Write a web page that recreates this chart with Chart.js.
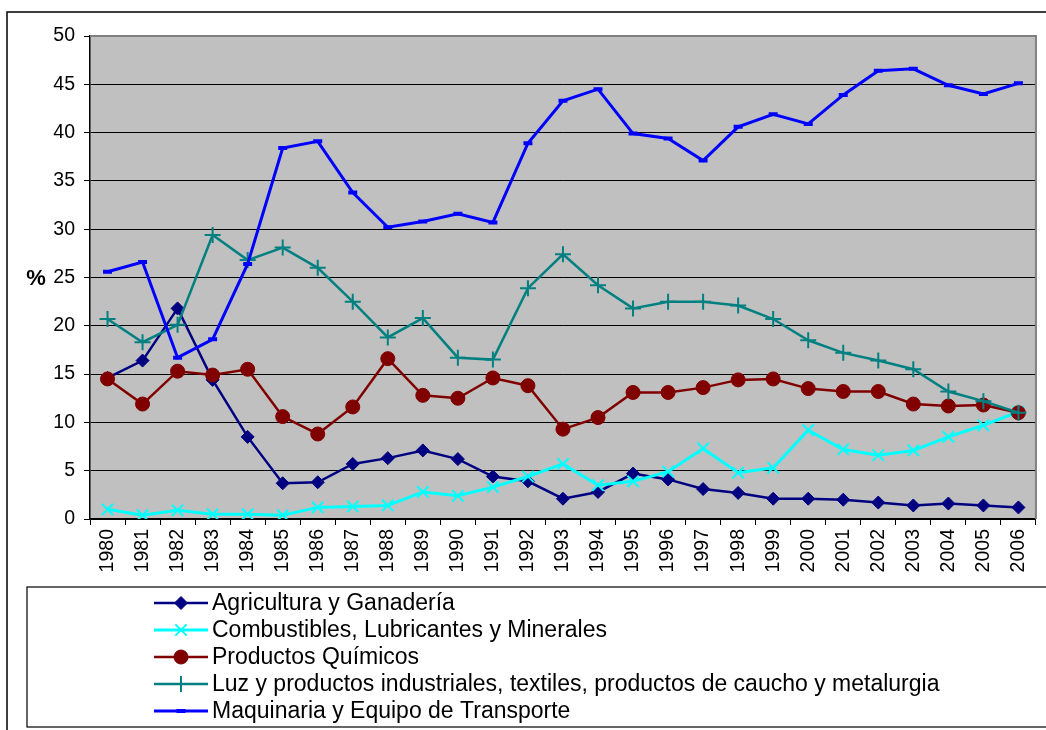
<!DOCTYPE html>
<html>
<head>
<meta charset="utf-8">
<script src="https://cdn.jsdelivr.net/npm/chart.js@4.4.1/dist/chart.umd.min.js"></script>
<style>
  body { margin: 0; background: #fff; }
  canvas { display: block; }
</style>
</head>
<body>
<canvas id="grafico" width="1046" height="730"></canvas>
<script>
// años y series (% del total)
const anios = ['1980','1981','1982','1983','1984','1985','1986','1987','1988','1989','1990','1991','1992','1993',
  '1994','1995','1996','1997','1998','1999','2000','2001','2002','2003','2004','2005','2006'];

const agricultura = [14.6,16.4,21.8,14.4,8.5,3.7,3.8,5.7,6.3,7.1,6.2,4.4,3.9,2.1,2.8,4.7,4.1,3.1,2.7,2.1,2.1,2.0,1.7,1.4,1.6,1.4,1.2];
const combustibles = [1.0,0.4,0.9,0.5,0.5,0.4,1.2,1.3,1.4,2.8,2.4,3.3,4.4,5.7,3.5,3.9,4.9,7.3,4.8,5.3,9.2,7.2,6.6,7.1,8.5,9.7,11.1];
const quimicos = [14.5,11.9,15.3,14.9,15.5,10.6,8.8,11.6,16.6,12.8,12.5,14.6,13.8,9.3,10.5,13.1,13.1,13.6,14.4,14.5,13.5,13.2,13.2,11.9,11.7,11.8,11.0];
const luz = [20.7,18.3,20.1,29.4,26.8,28.1,26.0,22.5,18.8,20.8,16.7,16.5,23.9,27.4,24.2,21.8,22.5,22.5,22.1,20.7,18.5,17.2,16.4,15.5,13.2,12.2,11.0];
const maquinaria = [25.6,26.6,16.7,18.6,26.4,38.4,39.1,33.8,30.2,30.8,31.6,30.7,38.9,43.3,44.5,39.9,39.4,37.1,40.6,41.9,40.9,43.9,46.4,46.6,44.9,44.0,45.1];

const etiquetas = ['Agricultura y Ganadería', 'Combustibles, Lubricantes y Minerales', 'Productos Químicos',
  'Luz y productos industriales, textiles, productos de caucho y metalurgia', 'Maquinaria y Equipo de Transporte'];

const fuente = "'Liberation Sans', Arial, sans-serif";

// fondo gris del área de trazado, marco y leyenda
const marcoPlugin = {
  id: 'marco',
  beforeDraw(chart) {
    const { ctx, chartArea: a } = chart;
    ctx.save();
    ctx.fillStyle = '#C0C0C0';
    ctx.fillRect(a.left, a.top, a.right - a.left, a.bottom - a.top);
    ctx.restore();
  },
  afterDraw(chart) {
    const { ctx, chartArea: a } = chart;
    ctx.save();
    // borde gris arriba y a la derecha
    ctx.strokeStyle = '#808080';
    ctx.lineWidth = 2;
    ctx.beginPath();
    ctx.moveTo(a.left, a.top);
    ctx.lineTo(a.right, a.top);
    ctx.lineTo(a.right, a.bottom);
    ctx.stroke();

    // marco exterior
    ctx.strokeStyle = '#000';
    ctx.lineWidth = 1.5;
    ctx.beginPath();
    ctx.moveTo(7, 735);
    ctx.lineTo(7, 12);
    ctx.lineTo(1050, 12);
    ctx.stroke();

    // símbolo %
    ctx.fillStyle = '#000';
    ctx.font = 'bold 22px ' + fuente;
    ctx.textAlign = 'center';
    ctx.textBaseline = 'middle';
    ctx.fillText('%', 36, 279);

    // caja de leyenda
    ctx.lineWidth = 1.2;
    ctx.strokeRect(27, 587, 1030, 140);
    ctx.font = '23px ' + fuente;
    ctx.textAlign = 'left';
    chart.data.datasets.forEach((ds, i) => {
      const y = 603 + i * 27;
      ctx.strokeStyle = ds.borderColor;
      ctx.fillStyle = ds.pointBackgroundColor;
      ctx.lineWidth = ds.borderWidth;
      ctx.beginPath();
      ctx.moveTo(154, y);
      ctx.lineTo(208, y);
      ctx.stroke();
      ctx.strokeStyle = ds.pointBorderColor;
      ctx.lineWidth = ds.pointBorderWidth;
      Chart.helpers.drawPoint(ctx, {
        pointStyle: ds.pointStyle, rotation: 0,
        radius: ds.pointRadius, borderWidth: ds.pointBorderWidth
      }, 181, y);
      ctx.fillStyle = '#000';
      ctx.fillText(ds.label, 212, y + 1);
    });
    ctx.restore();
  }
};

function serie(label, data, color, estilo, radio, grosorPunto, grosor, orden) {
  return {
    label: label,
    data: data,
    borderColor: color,
    backgroundColor: color,
    pointBackgroundColor: color,
    pointBorderColor: color,
    pointStyle: estilo,
    pointRadius: radio,
    pointHoverRadius: radio,
    pointBorderWidth: grosorPunto,
    borderWidth: grosor,
    tension: 0,
    order: orden
  };
}

new Chart(document.getElementById('grafico').getContext('2d'), {
  type: 'line',
  data: {
    labels: anios,
    datasets: [
      serie(etiquetas[0], agricultura, '#000080', 'rectRot', 6.5, 1, 2.5, 5),
      serie(etiquetas[1], combustibles, '#00FFFF', 'crossRot', 8, 2, 3, 4),
      serie(etiquetas[2], quimicos, '#800000', 'circle', 7, 1, 2.5, 3),
      serie(etiquetas[3], luz, '#008080', 'cross', 8, 2, 2.5, 2),
      serie(etiquetas[4], maquinaria, '#0000FF', 'line', 4.5, 4, 3, 1)
    ]
  },
  options: {
    responsive: false,
    animation: false,
    layout: { padding: { left: 0, top: 36, right: 6, bottom: 0 } },
    plugins: {
      legend: { display: false },
      tooltip: { enabled: false }
    },
    scales: {
      x: {
        offset: true,
        grid: { offset: true, drawOnChartArea: false, color: '#000', tickLength: 6, tickColor: '#000' },
        border: { color: '#000', width: 1.5 },
        ticks: {
          autoSkip: false, minRotation: 90, maxRotation: 90, padding: 4,
          color: '#000', font: { family: fuente, size: 19.5 }
        },
        afterFit(scale) { scale.height = 211; }
      },
      y: {
        min: 0,
        max: 50,
        grid: {
          color: ctx => (ctx.tick && ctx.tick.value === 50 ? 'rgba(0,0,0,0)' : '#000'),
          tickColor: '#000',
          tickLength: 6,
          lineWidth: 1
        },
        border: { color: '#000', width: 1.5 },
        ticks: {
          stepSize: 5, padding: 9, color: '#000',
          font: { family: fuente, size: 19.5 }
        },
        afterFit(scale) { scale.width = 90; }
      }
    }
  },
  plugins: [marcoPlugin]
});
</script>
</body>
</html>
